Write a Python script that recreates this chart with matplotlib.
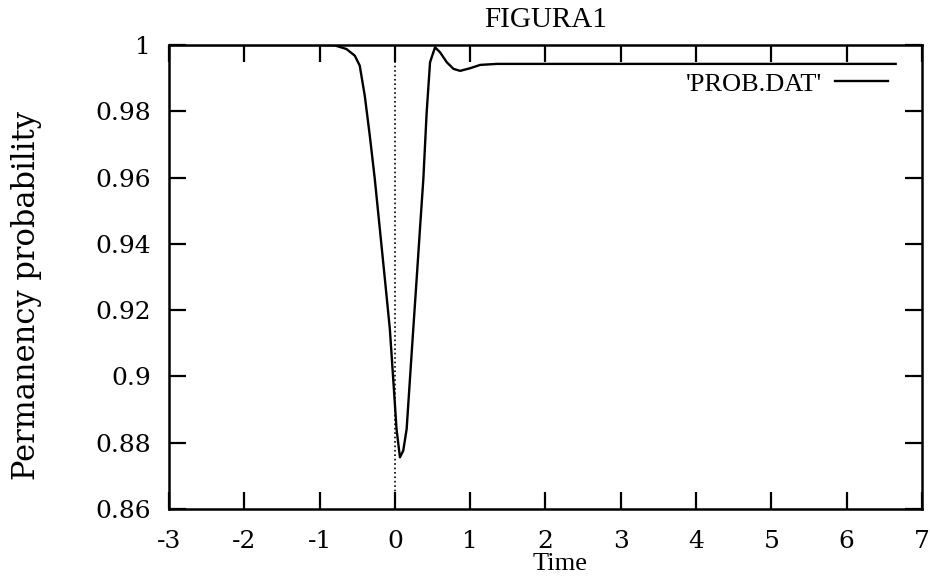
import matplotlib
matplotlib.use('Agg')
import matplotlib.pyplot as plt
from matplotlib.ticker import FormatStrFormatter

# 数据
time = [-3.0, -1.04, -0.8, -0.644, -0.533, -0.467, -0.4, -0.333, -0.267, -0.2,
        -0.133, -0.067, -0.022, 0.022, 0.067, 0.111, 0.156, 0.2, 0.244, 0.289,
        0.333, 0.378, 0.422, 0.467, 0.533, 0.6, 0.689, 0.778, 0.867, 1.0, 1.133,
        1.356, 6.65]
prob = [1.0, 1.0, 0.9999, 0.9988, 0.9968, 0.9938, 0.9847, 0.9726, 0.9596, 0.9445,
        0.9294, 0.9143, 0.8992, 0.8841, 0.8756, 0.8776, 0.8841, 0.8992, 0.9143, 0.9294,
        0.9445, 0.9596, 0.9797, 0.9948, 0.9993, 0.9978, 0.9948, 0.9928, 0.9922, 0.9930,
        0.9940, 0.9943, 0.9943]

x_ticks = [-3, -2, -1, 0, 1, 2, 3, 4, 5, 6, 7]
y_ticks = [0.86, 0.88, 0.90, 0.92, 0.94, 0.96, 0.98, 1.0]

plt.rcParams['font.family'] = ['DejaVu Serif']
plt.rcParams['axes.unicode_minus'] = False

fig = plt.figure(figsize=(9.3, 5.8), dpi=100)
ax = fig.add_axes([0.1817, 0.1224, 0.8097, 0.80])

ax.plot(time, prob, color='black', linewidth=1.7, label="'PROB.DAT'")
ax.axvline(0, color='black', linestyle=':', linewidth=1.2)

ax.set_xlim(-3, 7)
ax.set_ylim(0.86, 1.0)
ax.set_xticks(x_ticks)
ax.set_yticks(y_ticks)
ax.yaxis.set_major_formatter(FormatStrFormatter('%g'))
ax.tick_params(direction='in', length=12, width=1.6, top=True, right=True,
               labelsize=18)
ax.tick_params(axis='x', pad=15)
ax.tick_params(axis='y', pad=13)
for s in ax.spines.values():
    s.set_linewidth(1.8)

ax.set_title('FIGURA1', family='Liberation Serif', fontsize=21, pad=13)

ax.set_xlabel('Time', family='Liberation Serif', fontsize=19)
ax.xaxis.set_label_coords(0.52, -0.118)
ax.xaxis.label.set_va('center')

ax.set_ylabel('Permanency probability', fontsize=22)
ax.yaxis.set_label_coords(-0.1886, 0.46)
ax.yaxis.label.set_va('center')

ax.legend(loc='center right', bbox_to_anchor=(0.955, 0.916), frameon=False,
          markerfirst=False, handlelength=2.0, handletextpad=0.5,
          borderaxespad=0, borderpad=0,
          prop={'family': 'Liberation Serif', 'size': 19})

fig.savefig('out.png', dpi=100, facecolor='white')
